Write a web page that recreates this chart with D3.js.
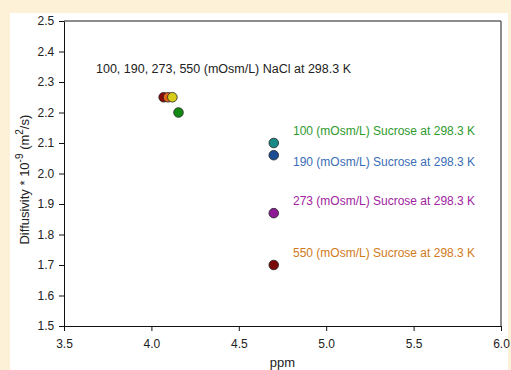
<!DOCTYPE html>
<html>
<head>
<meta charset="utf-8">
<script src="https://cdn.jsdelivr.net/npm/d3@7"></script>
<style>
  body { margin: 0; background: #fdf2d8; }
  svg { display: block; }
</style>
</head>
<body>
<div id="chart"></div>
<script>
// NaCl points (clustered near top left)
const naclX = [4.07, 4.095, 4.12, 4.155];
const naclY = [2.25, 2.25, 2.25, 2.20];
const naclColors = ["#8b0a0a", "#e0661a", "#d8cc1a", "#138a13"];

// sucrose points
const sucX = [4.7, 4.7, 4.7, 4.7];
const sucY = [2.10, 2.06, 1.87, 1.70];
const sucColors = ["#1a8a86", "#1c4d94", "#8e1a96", "#7a0a0a"];
const sucLabels = ["100 (mOsm/L) Sucrose at 298.3 K", "190 (mOsm/L) Sucrose at 298.3 K",
                   "273 (mOsm/L) Sucrose at 298.3 K", "550 (mOsm/L) Sucrose at 298.3 K"];
const sucLabelY = [2.14, 2.04, 1.91, 1.74];
const sucLabelColors = ["#2e9a2e", "#3a6db5", "#a024a0", "#d07a20"];

const naclLabel = "100, 190, 273, 550 (mOsm/L) NaCl at 298.3 K";

const xTicks = [3.5, 4.0, 4.5, 5.0, 5.5, 6.0];
const yTicks = [1.5, 1.6, 1.7, 1.8, 1.9, 2.0, 2.1, 2.2, 2.3, 2.4, 2.5];

const W = 511, H = 370;
const margin = {top: 21, right: 10, bottom: 44, left: 64};

const svg = d3.select("#chart").append("svg")
  .attr("width", W).attr("height", H);

// white panel
svg.append("rect")
  .attr("x", 10).attr("y", 13)
  .attr("width", 498).attr("height", H - 13)
  .attr("fill", "#fff");

const x = d3.scaleLinear().domain([3.5, 6.0]).range([margin.left, W - margin.right]);
const y = d3.scaleLinear().domain([1.5, 2.5]).range([H - margin.bottom, margin.top]);

const font = "Liberation Sans, Arial, sans-serif";

// frame top/right
svg.append("line")
  .attr("x1", x(3.5)).attr("x2", x(6.0))
  .attr("y1", y(2.5)).attr("y2", y(2.5))
  .attr("stroke", "#666").attr("stroke-width", 1.5);
svg.append("line")
  .attr("x1", x(6.0)).attr("x2", x(6.0))
  .attr("y1", y(2.5)).attr("y2", y(1.5))
  .attr("stroke", "#666").attr("stroke-width", 1.5);

// axes
const xAxis = svg.append("g")
  .attr("transform", `translate(0, ${y(1.5)})`)
  .call(d3.axisBottom(x).tickValues(xTicks).tickFormat(d3.format(".1f")).tickSize(5).tickSizeOuter(0));
const yAxis = svg.append("g")
  .attr("transform", `translate(${x(3.5)}, 0)`)
  .call(d3.axisLeft(y).tickValues(yTicks).tickFormat(d3.format(".1f")).tickSize(5).tickSizeOuter(0));

[xAxis, yAxis].forEach(a => {
  a.selectAll("text").attr("font-family", font).attr("font-size", 12).attr("fill", "#222");
  a.select(".domain").attr("stroke", "#111");
  a.selectAll(".tick line").attr("stroke", "#111");
});
xAxis.selectAll("text").attr("dy", "1.2em");
yAxis.selectAll("text").attr("dx", "-0.15em");

// axis titles
svg.append("text")
  .attr("x", (x(3.5) + x(6.0)) / 2)
  .attr("y", 367)
  .attr("text-anchor", "middle")
  .attr("font-family", font).attr("font-size", 13).attr("fill", "#222")
  .text("ppm");

const yt = svg.append("text")
  .attr("transform", `translate(29, ${y(1.98)}) rotate(-90)`)
  .attr("text-anchor", "middle")
  .attr("font-family", font).attr("font-size", 13).attr("fill", "#222");
yt.append("tspan").text("Diffusivity * 10");
yt.append("tspan").attr("dy", -6).attr("font-size", 10).text("-9");
yt.append("tspan").attr("dy", 6).text(" (m");
yt.append("tspan").attr("dy", -6).attr("font-size", 10).text("2");
yt.append("tspan").attr("dy", 6).text("/s)");

// labels
svg.append("text")
  .attr("x", 96).attr("y", y(2.33))
  .attr("font-family", font).attr("font-size", 12.5).attr("fill", "#222")
  .text(naclLabel);

svg.selectAll(".suclab")
  .data(sucLabels)
  .join("text")
    .attr("class", "suclab")
    .attr("x", 293)
    .attr("y", (d, i) => y(sucLabelY[i]))
    .attr("dy", "0.35em")
    .attr("font-family", font).attr("font-size", 12)
    .attr("fill", (d, i) => sucLabelColors[i])
    .text(d => d);

// points
svg.selectAll(".nacl")
  .data(naclX)
  .join("circle")
    .attr("class", "nacl")
    .attr("cx", d => x(d))
    .attr("cy", (d, i) => y(naclY[i]))
    .attr("r", 4.8)
    .attr("fill", (d, i) => naclColors[i])
    .attr("stroke", "#222").attr("stroke-width", 0.8);

svg.selectAll(".suc")
  .data(sucX)
  .join("circle")
    .attr("class", "suc")
    .attr("cx", d => x(d))
    .attr("cy", (d, i) => y(sucY[i]))
    .attr("r", 4.8)
    .attr("fill", (d, i) => sucColors[i])
    .attr("stroke", "#222").attr("stroke-width", 0.8);
</script>
</body>
</html>
